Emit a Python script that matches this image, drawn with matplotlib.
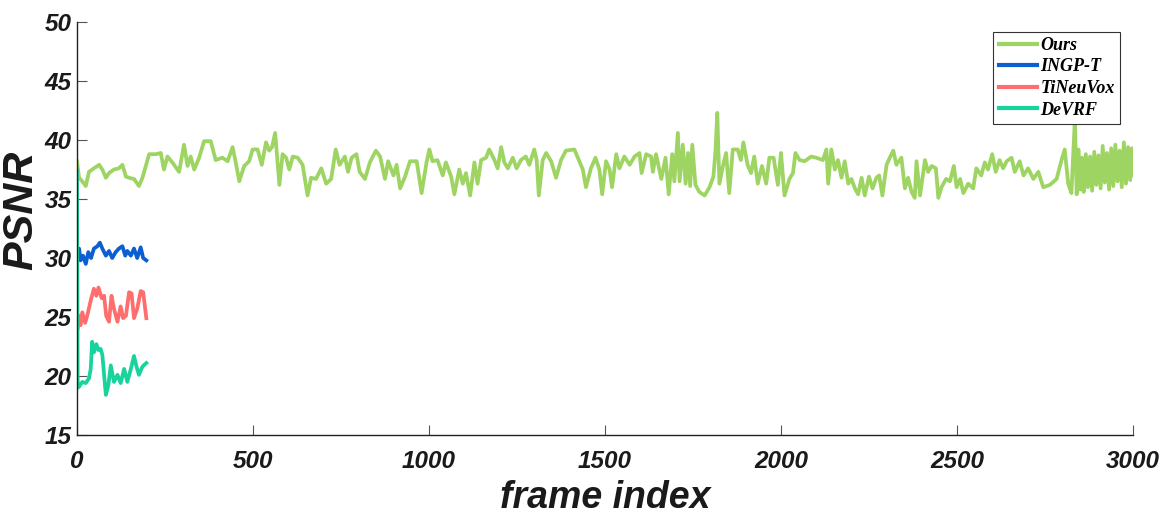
import numpy as np
import matplotlib
matplotlib.use("Agg")
import matplotlib.pyplot as plt

# PSNR per frame
ours_frames = [0, 6, 15, 25, 34, 48, 63, 72, 82, 91, 105, 119, 129, 139, 148, 162, 176, 186,
               205, 224, 238, 247, 257, 271, 290, 304, 314, 323, 333, 347, 361, 380, 394, 413,
               428, 442, 451, 461, 475,
               489, 499, 513, 525, 537, 546, 554, 563, 575, 584, 594, 603, 613, 627, 641, 655,
               665, 679, 694, 708, 722, 735, 746, 761, 770, 780, 794, 803, 818, 832, 849, 861,
               875, 884, 899, 908, 918, 932, 946, 965, 979, 993,
               1001, 1010, 1024, 1039, 1048, 1063, 1072, 1086, 1096, 1105, 1117, 1129, 1138,
               1148, 1162, 1171, 1186, 1195, 1205, 1214, 1224, 1238, 1249, 1261, 1275, 1285,
               1299, 1306, 1312, 1323, 1333, 1347, 1361, 1375, 1389, 1413, 1427, 1437, 1446,
               1460, 1473, 1484, 1492, 1503,
               1513, 1520, 1532, 1541, 1555, 1570, 1584, 1598, 1604, 1617, 1631, 1636, 1645,
               1660, 1672, 1681, 1691, 1697, 1707, 1712, 1721, 1729, 1736, 1742, 1748, 1757,
               1768, 1783, 1797, 1808, 1814, 1819, 1825, 1835, 1844, 1853, 1863, 1877, 1886,
               1893, 1905, 1915, 1924, 1934, 1946, 1958, 1967, 1979, 1991, 2000, 2010,
               2024, 2034, 2041, 2053, 2067, 2086, 2100, 2119, 2129, 2134, 2143, 2153, 2162,
               2172, 2181, 2191, 2200, 2210, 2219, 2229, 2238, 2250, 2260, 2271, 2279, 2288,
               2300, 2309, 2319, 2328, 2342, 2352, 2361, 2371, 2380, 2385, 2395, 2409, 2418,
               2428, 2440, 2447, 2456, 2469, 2480, 2491, 2499, 2509, 2518, 2532,
               2546, 2555, 2569, 2579, 2588, 2600, 2610, 2621, 2631, 2641, 2655, 2664, 2678,
               2689, 2702, 2717, 2731, 2745, 2764, 2783, 2797, 2806, 2816, 2825, 2835, 2840,
               2845, 2850, 2855, 2860, 2866, 2872, 2878, 2884, 2890, 2896, 2902, 2908, 2914,
               2920, 2926, 2932, 2938, 2944, 2950, 2956, 2962, 2968, 2974, 2980, 2986, 2992,
               2997, 3000]
ours_psnr = [38.2, 36.8, 36.5, 36.1, 37.3, 37.6, 37.9, 37.5, 36.8, 37.2, 37.5, 37.6, 37.9, 36.9,
             36.8, 36.7, 36.1, 36.8, 38.8, 38.8, 38.9, 37.5, 38.6, 38.1, 37.3, 39.6, 37.8, 38.6,
             37.5, 38.5, 39.9, 39.9, 38.3, 38.5, 38.2, 39.4, 38.1, 36.5, 37.8,
             38.2, 39.2, 39.2, 37.9, 39.8, 39.1, 39.4, 40.6, 36.2, 38.8, 38.5, 37.5, 38.6, 38.5,
             37.9, 35.3, 36.8, 36.7, 37.6, 36.3, 36.7, 39.2, 37.9, 38.6, 37.3, 38.5, 38.8, 37.3,
             36.7, 38.1, 39.1, 38.6, 36.7, 38.2, 37.0, 37.9, 35.9, 36.9, 38.2, 38.2, 35.5, 38.1,
             39.2, 38.2, 38.3, 37.0, 38.1, 36.9, 35.4, 37.5, 36.3, 37.2, 35.3, 38.1, 36.3, 38.3,
             38.5, 39.2, 38.3, 37.6, 39.4, 38.1, 37.6, 38.5, 37.6, 38.3, 38.6, 37.9, 39.2, 38.3,
             35.3, 38.3, 38.9, 38.2, 36.8, 38.3, 39.1, 39.2, 38.2, 37.5, 36.0, 37.6, 38.5, 37.5,
             35.4, 38.2,
             37.5, 36.0, 38.8, 37.6, 38.6, 37.9, 38.6, 38.9, 37.2, 38.8, 38.6, 37.3, 38.8, 36.7,
             38.5, 35.4, 38.8, 36.5, 40.6, 36.5, 39.6, 36.3, 38.9, 36.1, 39.6, 36.2, 35.6, 35.3,
             36.0, 36.9, 39.1, 42.3, 36.3, 37.8, 38.9, 35.5, 39.2, 39.2, 38.3, 39.8, 37.9, 37.2,
             38.6, 36.3, 37.8, 36.3, 38.5, 38.5, 36.2, 38.9, 35.3,
             36.7, 37.2, 38.9, 38.3, 38.2, 38.6, 38.5, 38.3, 39.2, 36.3, 39.2, 37.5, 38.3, 36.8,
             38.2, 36.3, 36.7, 35.9, 35.4, 36.8, 35.3, 36.9, 35.9, 36.8, 37.0, 35.3, 37.9, 38.5,
             39.1, 37.9, 38.5, 35.9, 36.8, 35.6, 35.1, 38.2, 35.3, 38.3, 37.3, 37.8, 37.6, 35.1,
             36.0, 36.7, 36.5, 37.8, 36.0, 36.7, 35.5, 36.3,
             35.9, 37.6, 37.0, 38.1, 37.5, 38.8, 37.3, 38.3, 37.6, 38.2, 38.5, 37.3, 38.2, 37.0,
             37.6, 36.7, 37.3, 36.0, 36.2, 36.7, 38.3, 39.2, 36.3, 35.5, 41.8, 35.4,
             39.2, 35.8, 38.5, 35.6, 38.8, 36.0, 38.6, 35.7, 39.0, 36.2, 38.7, 35.9, 39.5, 36.4,
             38.9, 35.8, 39.3, 36.1, 39.6, 36.5, 39.1, 36.0, 39.8, 36.3, 39.4, 36.6, 39.3, 37.0]

ingp_frames = [0, 6, 10, 17, 25, 32, 40, 48, 58, 65, 72, 82, 91, 100, 110, 119, 129, 137, 143,
               153, 162, 171, 181, 188, 197]
ingp_psnr = [30.7, 30.8, 29.8, 30.2, 29.5, 30.5, 30.0, 30.8, 31.0, 31.3, 30.8, 30.2, 30.6, 30.0,
             30.5, 30.8, 31.0, 30.2, 30.6, 30.2, 30.8, 30.0, 30.9, 30.0, 29.8]

tineu_frames = [0, 1, 6, 10, 15, 23, 29, 39, 48, 55, 61, 70, 77, 83, 91, 98, 105, 115, 124, 131,
                139, 148, 155, 162, 171, 181, 188, 197]
tineu_psnr = [24.8, 23.9, 25.1, 24.3, 25.4, 24.5, 25.1, 26.4, 27.4, 26.8, 27.5, 26.6, 26.8, 25.1,
              24.6, 26.8, 25.7, 24.6, 25.9, 24.9, 25.1, 27.1, 27.0, 24.9, 25.7, 27.2, 27.1, 24.9]

devrf_frames = [0, 2, 6, 15, 25, 34, 39, 43, 48, 55, 61, 67, 72, 82, 89, 96, 105, 115, 124, 134,
                143, 153, 162, 169, 176, 186, 197]
devrf_psnr = [37.4, 19.0, 19.1, 19.5, 19.4, 19.8, 20.6, 22.9, 22.0, 22.7, 22.2, 22.3, 21.8, 18.4,
              19.2, 20.9, 19.5, 20.1, 19.4, 20.6, 19.5, 20.6, 21.7, 20.8, 20.1, 20.8, 21.1]

labels = ["Ours", "INGP-T", "TiNeuVox", "DeVRF"]
colors = ["#9dd462", "#0b5fd0", "#ff6e6e", "#18d39c"]

fig = plt.figure(figsize=(11.63, 5.18), dpi=100)
ax = fig.add_axes([0.0662, 0.1602, 0.908, 0.7973])

series = [(ours_frames, ours_psnr), (ingp_frames, ingp_psnr),
          (tineu_frames, tineu_psnr), (devrf_frames, devrf_psnr)]
for (fx, fy), lab, c in zip(series, labels, colors):
    ax.plot(fx, fy, color=c, lw=2.7, label=lab, solid_joinstyle="round")

ax.set_xlim(0, 3000)
ax.set_ylim(15, 50)
ax.set_xticks(np.arange(0, 3001, 500))
ax.set_yticks(np.arange(15, 51, 5))

for side in ["top", "right"]:
    ax.spines[side].set_visible(False)
for side in ["left", "bottom"]:
    ax.spines[side].set_linewidth(1.0)
    ax.spines[side].set_color("#222222")

ax.tick_params(direction="in", length=7, width=0.8, color="#555555")
ax.tick_params(axis="x", pad=11)
ax.tick_params(axis="y", pad=4)
for t in ax.get_xticklabels() + ax.get_yticklabels():
    t.set_fontfamily("Liberation Sans")
    t.set_fontweight("bold")
    t.set_fontstyle("italic")
    t.set_fontsize(17.5)
    t.set_color("#1a1a1a")

ax.set_xlabel("frame index", fontfamily="Liberation Sans", fontweight="bold",
              fontstyle="italic", fontsize=27, color="#1a1a1a")
ax.xaxis.set_label_coords(0.5, -0.108)
ax.set_ylabel("PSNR", fontfamily="Liberation Sans", fontweight="bold",
              fontstyle="italic", fontsize=31, color="#1a1a1a")
ax.yaxis.set_label_coords(-0.053, 0.545)
ax.yaxis.label.set_va("center")

leg = ax.legend(loc="upper right", bbox_to_anchor=(0.993, 0.99),
                prop={"family": "Liberation Serif", "weight": "bold", "style": "italic", "size": 13},
                frameon=True, fancybox=False, framealpha=1, edgecolor="#333333",
                handlelength=2.1, handletextpad=0.2, labelspacing=0.25,
                borderpad=0.3, borderaxespad=0.3)
leg.get_frame().set_linewidth(0.8)
for h in leg.get_lines():
    h.set_linewidth(3)

fig.savefig("out.png", dpi=100)
